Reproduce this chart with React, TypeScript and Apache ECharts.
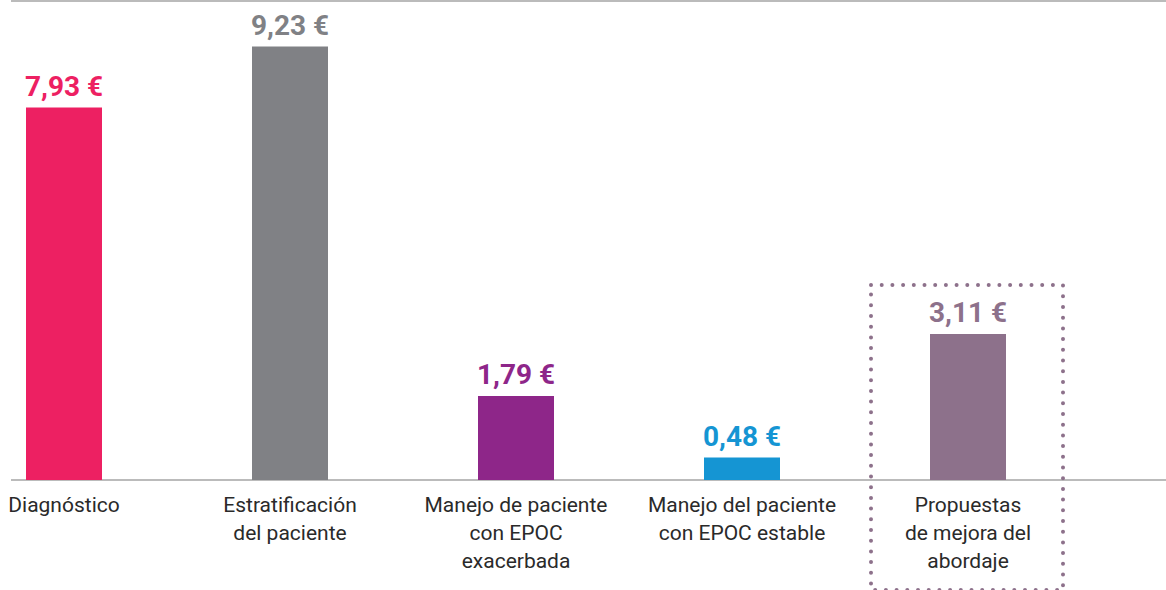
import React, { useEffect, useRef } from "react";
import * as echarts from "echarts";

const categories = [
  "Diagnóstico",
  "Estratificación\ndel paciente",
  "Manejo de paciente\ncon EPOC\nexacerbada",
  "Manejo del paciente\ncon EPOC estable",
  "Propuestas\nde mejora del\nabordaje",
];
const values = [7.93, 9.23, 1.79, 0.48, 3.11];
const colors = ["#ED2062", "#808185", "#8E2689", "#1595D3", "#8D718B"];
const highlightIndex = 4;

export default function App() {
  const ref = useRef<HTMLDivElement>(null);
  useEffect(() => {
    if (!ref.current) return;
    const chart = echarts.init(ref.current, null, { renderer: "svg" });
    const fmt = (v: number) => v.toFixed(2).replace(".", ",") + " €";
    chart.setOption({
      animation: false,
      grid: [
        { left: -49, width: 1130, top: 1, height: 479, outerBoundsMode: "none", containLabel: false },
        { left: 11, right: 0, top: 1, height: 479, outerBoundsMode: "none", containLabel: false },
      ],
      xAxis: [
        {
          type: "category",
          gridIndex: 0,
          data: categories,
          axisLine: { show: false },
          axisTick: { show: false },
          axisLabel: {
            interval: 0,
            margin: 11,
            fontFamily: "Roboto",
            fontSize: 21,
            lineHeight: 28,
            color: "#2a2a2a",
            align: "center",
          },
        },
        {
          type: "value",
          gridIndex: 1,
          min: 0,
          max: 1,
          show: false,
          splitLine: { show: false },
        },
      ],
      yAxis: [
        {
          type: "value",
          gridIndex: 0,
          min: 0,
          max: 10.2,
          show: false,
          splitLine: { show: false },
        },
        {
          type: "value",
          gridIndex: 1,
          min: 0,
          max: 1,
          interval: 1,
          axisLine: { show: false },
          axisTick: { show: false },
          axisLabel: { show: false },
          splitLine: { show: true, showMaxLine: true, showMinLine: true, lineStyle: { color: "#a4a4a4", width: 1.6 } },
        },
      ],
      series: [
        {
          type: "bar",
          xAxisIndex: 0,
          yAxisIndex: 0,
          barWidth: 76,
          z: 3,
          data: values.map((v, i) => ({
            value: v,
            itemStyle: { color: colors[i] },
            label: { color: colors[i] },
          })),
          label: {
            show: true,
            position: "top",
            distance: 7,
            fontFamily: "Roboto",
            fontWeight: "bold",
            fontSize: 28,
            formatter: (p: any) => fmt(p.value),
          },
        },
      ],
    });
    const center = chart.convertToPixel({ xAxisIndex: 0 }, highlightIndex) as number;
    chart.setOption({
      graphic: [
        {
          type: "rect",
          shape: { x: center - 97, y: 285, width: 192, height: 305 },
          style: {
            fill: "none",
            stroke: colors[highlightIndex],
            lineWidth: 4,
            lineDash: [0, 10.7],
            lineCap: "round",
          },
          silent: true,
        },
      ],
    });
    return () => chart.dispose();
  }, []);
  return (
    <div
      ref={ref}
      style={{ position: "absolute", left: 0, top: 0, width: 1166, height: 590 }}
    />
  );
}
